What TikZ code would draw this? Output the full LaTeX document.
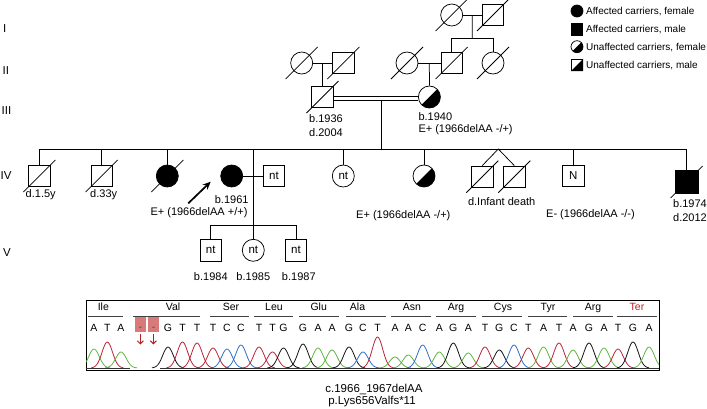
\documentclass[tikz,border=0pt]{standalone}
\usepackage{fontspec}
\setmainfont{Liberation Sans}
\usetikzlibrary{arrows.meta,calc}
\definecolor{cA}{RGB}{95,180,65}
\definecolor{cC}{RGB}{45,110,200}
\definecolor{cG}{RGB}{20,20,20}
\definecolor{cT}{RGB}{185,35,55}
\definecolor{delbox}{RGB}{216,122,122}
\definecolor{delarrow}{RGB}{180,30,30}
\definecolor{terred}{RGB}{200,30,35}
\newcommand{\pslash}[1]{\draw[pline] ($(#1)+(-16,16)$) -- ($(#1)+(16,-16)$);}
\newcommand{\phalf}[2]{\begin{scope}\clip ($(#1)+(-2*#2,2*#2)$) -- ($(#1)+(2*#2,-2*#2)$) -- ($(#1)+(2*#2,2*#2)$) -- cycle; \fill (#1) circle[radius=#2pt];\end{scope}}
\begin{document}
\begin{tikzpicture}[x=1pt,y=-1pt,
  pline/.style={line width=0.75pt},
  male/.style={draw, rectangle, minimum size=21.5pt, inner sep=0pt, line width=0.75pt, font=\fontsize{11.5}{12}\selectfont},
  female/.style={draw, circle, minimum size=22pt, inner sep=0pt, line width=0.75pt, font=\fontsize{11.5}{12}\selectfont},
  lbl/.style={inner sep=0pt, font=\fontsize{11}{12}\selectfont, text height=7.9pt, text depth=0pt},
  gen/.style={inner sep=0pt, anchor=west, font=\fontsize{11.5}{12}\selectfont, text height=8.2pt, text depth=0pt},
  leg/.style={inner sep=0pt, anchor=west, font=\fontsize{10}{12}\selectfont, text height=7.2pt, text depth=0pt},
  codon/.style={inner sep=0pt, font=\fontsize{10.5}{11}\selectfont, text height=7.5pt, text depth=0pt},
  basetxt/.style={inner sep=0pt, font=\fontsize{10.5}{11}\selectfont, text height=7.5pt, text depth=0pt},
  uline/.style={line width=0.8pt, black!75},
  captxt/.style={inner sep=0pt, font=\fontsize{11.5}{12}\selectfont, text height=8.2pt, text depth=0pt}
]
\useasboundingbox (0,0) rectangle (707,408);

% generation numerals
\node[gen] (gI) at (3,28) {I};
\node[gen] (gII) at (2.5,70) {II};
\node[gen] (gIII) at (1.5,110) {III};
\node[gen] (gIV) at (0.5,175) {IV};
\node[gen] (gV) at (3,252) {V};

% Generation I
\node[female] (I1) at (451.7,15) {};
\node[male] (I2) at (493,15) {};
\pslash{I1}\pslash{I2}
\draw[pline] (I1) -- (I2);
\coordinate (m1) at ($(I1)!0.5!(I2)$);
\coordinate (s2) at (472.3,38);

% Generation II
\node[female] (II1) at (301.7,63) {};
\node[male] (II2) at (343.3,63) {};
\node[female] (II3) at (407,63) {};
\node[male] (II4) at (451.7,63) {};
\node[female] (II5) at (493,63) {};
\foreach \n in {II1,II2,II3,II4,II5} {\pslash{\n}}
\draw[pline] (m1) -- (s2);
\draw[pline] (II4.north |- s2) -- (II5.north |- s2);
\draw[pline] (II4.north |- s2) -- (II4.north);
\draw[pline] (II5.north |- s2) -- (II5.north);
\draw[pline] (II1) -- (II2);
\draw[pline] (II3) -- (II4);

% Generation III
\node[male] (III1) at (322.5,97) {};
\node[female] (III2) at (429.4,97) {};
\pslash{III1}
\phalf{III2}{11}
\draw[pline] ($(II1)!0.5!(II2)$) -- (III1.north);
\draw[pline] ($(II3)!0.5!(II4)$) -- (III2.north);
\draw[pline] ($(III1.east)+(0,-0.7)$) -- ($(III2.west)+(0,-0.7)$);
\draw[pline] ($(III1.east)+(0,3.3)$) -- ($(III2.west)+(0,3.3)$);
\coordinate (m3) at (381.7,100.3);
\node[lbl] (t36a) at (326,119) {b.1936};
\node[lbl] (t36b) at (326,132.7) {d.2004};
\node[lbl, anchor=west] (t40a) at (418.3,116.5) {b.1940};
\node[lbl, anchor=west] (t40b) at (418.3,128.5) {E+ (1966delAA -/+)};

% Generation IV
\coordinate (s4) at (381.7,149);
\node[male] (IV1) at (39.3,176) {};
\node[male] (IV2) at (101.7,176) {};
\node[female, fill=black] (IV3) at (167.3,176) {};
\node[female, fill=black] (IV4) at (231.7,176) {};
\node[male] (IV5) at (274,176) {nt};
\node[female] (IV6) at (343.3,176) {nt};
\node[female] (IV7) at (424,176) {};
\node[male] (IV8) at (482.3,176.7) {};
\node[male] (IV9) at (514.3,176.7) {};
\node[male] (IV10) at (573.3,176) {N};
\node[male, fill=black, minimum size=22.5pt] (IV11) at (686.7,182) {};
\pslash{IV1}\pslash{IV2}\pslash{IV3}\pslash{IV8}\pslash{IV9}\pslash{IV11}
\phalf{IV7}{11}
\draw[pline] (m3) -- (s4);
\draw[pline] (IV1.north |- s4) -- (IV11.north |- s4);
\foreach \n in {IV1,IV2,IV3,IV6,IV7,IV10,IV11} {\draw[pline] (\n.north |- s4) -- (\n.north);}
\coordinate (tw) at (498.3,149);
\draw[pline] (IV8.north) -- (tw) -- (IV9.north);
\draw[pline] (IV4) -- (IV5);
\coordinate (pv) at (253.3,149);
\coordinate (s5) at (253.3,225);
\draw[pline] (pv) -- (s5);
\coordinate (arrS) at (188.3,203.3);
\coordinate (arrE) at (210.7,181.7);
\draw[-{Stealth[length=8pt,width=7pt]}, line width=1.7pt] (arrS) -- (arrE);

\node[lbl] (tIV1) at (40.7,194) {d.1.5y};
\node[lbl] (tIV2) at (103.7,194) {d.33y};
\node[lbl] (tIV4a) at (231.7,199.3) {b.1961};
\node[lbl] (tIV4b) at (199,211.7) {E+ (1966delAA +/+)};
\node[lbl] (tIV7) at (403.3,215) {E+ (1966delAA -/+)};
\node[lbl] (tIV8) at (501.7,201.7) {d.Infant death};
\node[lbl] (tIV10) at (590.5,214) {E- (1966delAA -/-)};
\node[lbl, anchor=west] (tIV11a) at (673,203.3) {b.1974};
\node[lbl, anchor=west] (tIV11b) at (673,217.3) {d.2012};

% Generation V
\node[male] (V1) at (210.7,250.3) {nt};
\node[female] (V2) at (253.3,250.3) {nt};
\node[male] (V3) at (296,250.3) {nt};
\draw[pline] (V1.north |- s5) -- (V3.north |- s5);
\foreach \n in {V1,V2,V3} {\draw[pline] (\n.north |- s5) -- (\n.north);}
\node[lbl] (tV1) at (210.8,276.7) {b.1984};
\node[lbl] (tV2) at (253.3,276.7) {b.1985};
\node[lbl] (tV3) at (298.8,276.7) {b.1987};

% Legend
\node[female, minimum size=12pt, fill=black] (L1) at (577,11) {};
\node[male, minimum size=11.5pt, fill=black] (L2) at (577,29.3) {};
\node[female, minimum size=12pt] (L3) at (577,46.7) {};
\phalf{L3}{6}
\node[male, minimum size=11.5pt] (L4) at (577,65) {};
\fill (L4.south west) -- (L4.north east) -- (L4.south east) -- cycle;
\node[leg] (Lt1) at (586,11) {Affected carriers, female};
\node[leg] (Lt2) at (586,29.3) {Affected carriers, male};
\node[leg] (Lt3) at (586,46.7) {Unaffected carriers, female};
\node[leg] (Lt4) at (586,65) {Unaffected carriers, male};

% Chromatogram
\node[draw, line width=0.8pt, minimum width=573pt, minimum height=70pt, inner sep=0pt, anchor=north west] (chrom) at (86,300) {};
\begin{scope}
\clip (86,300) rectangle (659,370);
\foreach \c/\h/\col in {94/19/cA,107.3/26/cT,121/16/cA,
  168/21/cG,182.5/26/cT,197/25/cT,213/20/cT,227/19/cC,241/23/cC,
  259/21/cT,272.5/16/cT,283.5/20/cG,303/24/cG,318/20/cA,332/18/cA,
  349/21/cG,363/16/cC,377.5/31/cT,395/11/cA,408.3/13/cA,422.7/23/cC,
  439.3/16/cA,453.3/25/cG,468.3/15/cA,485/21/cT,499.3/18/cG,514/23/cC,
  528.3/20/cT,543.5/21/cA,559/25/cT,573/18/cA,589/25/cG,604/20/cA,
  618/19/cT,633/26/cG,649/21/cA} {
  \pgfmathsetmacro\lo{\c-16}
  \pgfmathsetmacro\hi{\c+16}
  \draw[\col, line width=0.8pt] plot[domain=\lo:\hi, samples=33, smooth] (\x,{368-\h*exp(-((\x-\c)*(\x-\c))/55)});
}
\draw[line width=0.8pt, black!80] (86,368) -- (130,368);
\draw[line width=0.8pt, black!80] (160,368) -- (659,368);
\end{scope}

% codon labels and underlines
\foreach \lab/\a/\b/\m in {Ile/88/122.7/103.3,Val/133/200/173,Ser/210/249/231,Leu/254/293/274,Glu/299/339/318.7,Ala/346/386/357.5,Asn/391/431/412,Arg/436/476/456,Cys/482/522/503,Tyr/528/567/548}{
  \node[codon] at (\m,306.5) {\lab};
  \draw[uline] (\a,316) -- (\b,316);
}
\node[codon] (cArg2) at (593,306.5) {Arg};
\draw[uline] (573,316) -- (613,316);
\node[codon, text=terred] (cTer) at (637,306.5) {Ter};
\draw[uline] (617,316) -- (657,316);

% deletion boxes
\node[fill=delbox, minimum width=11.5pt, minimum height=15pt, inner sep=0pt, anchor=north west] (d1) at (134.3,317) {};
\node[fill=delbox, minimum width=11.5pt, minimum height=15pt, inner sep=0pt, anchor=north west] (d2) at (147.7,317) {};
\node[basetxt, text=black!70] at (d1 |- 0,326.5) {-};
\node[basetxt, text=black!70] at (d2 |- 0,326.5) {-};
\coordinate (a1s) at (140.3,334);
\coordinate (a1e) at (140.3,344.5);
\coordinate (a2s) at (153.4,334);
\coordinate (a2e) at (153.4,344.5);
\draw[delarrow, line width=1pt, -{Straight Barb[length=3pt,width=6pt]}] (a1s) -- (a1e);
\draw[delarrow, line width=1pt, -{Straight Barb[length=3pt,width=6pt]}] (a2s) -- (a2e);

% bases
\foreach \x/\b in {94/A,107.3/T,121/A,168/G,182.5/T,197/T,213/T,227/C,241/C,259/T,272.5/T,283.5/G,303/G,318/A,332/A,349/G,363/C,377.5/T,395/A,408.3/A,422.7/C,439.3/A,453.3/G,468.3/A,485/T,499.3/G,514/C,528.3/T,543.5/A,559/T,573/A,589/G,604/A,618/T,633/G,649/A}{
  \node[basetxt] at (\x,327.5) {\b};
}

% caption
\node[captxt] (cap1) at (374,388) {c.1966\_1967delAA};
\node[captxt] (cap2) at (372,400.5) {p.Lys656Valfs*11};
\end{tikzpicture}
\end{document}
